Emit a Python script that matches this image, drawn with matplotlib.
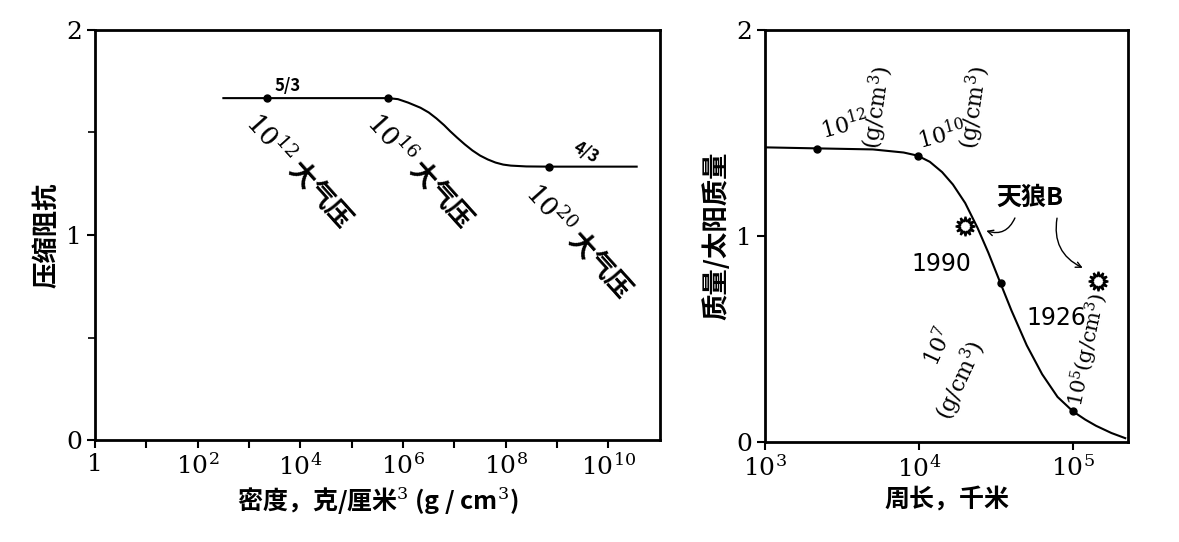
import matplotlib
matplotlib.use("Agg")
import matplotlib.pyplot as plt
import numpy as np

CJK = "Noto Sans CJK JP"
plt.rcParams["font.family"] = [CJK, "DejaVu Sans"]
plt.rcParams["mathtext.fontset"] = "dejavuserif"

# Left panel: compressibility resistance vs density
left_logrho = [2.5, 3.35, 4.5, 5.71, 5.9, 6.1, 6.34, 6.5, 6.65, 6.8, 6.92, 7.05, 7.2, 7.35, 7.5, 7.65, 7.8, 7.95, 8.1, 8.4, 8.85, 9.5, 10.55]
left_gamma = [1.667, 1.667, 1.667, 1.667, 1.662, 1.645, 1.62, 1.597, 1.568, 1.535, 1.505, 1.475, 1.442, 1.412, 1.387, 1.368, 1.353, 1.343, 1.338, 1.334, 1.333, 1.333, 1.333]
left_pts_x = [3.35, 5.71, 8.85]
left_pts_y = [1.667, 1.667, 1.333]
left_xticks = [0, 2, 4, 6, 8, 10]
left_xlabels = ["1", r"$10^2$", r"$10^4$", r"$10^6$", r"$10^8$", r"$10^{10}$"]

# Right panel: mass vs circumference
right_logc = [3.0, 3.34, 3.7, 3.9, 3.99, 4.07, 4.15, 4.22, 4.3, 4.38, 4.45, 4.53, 4.6, 4.7, 4.8, 4.9, 5.0, 5.08, 5.15, 5.25, 5.34]
right_mass = [1.43, 1.425, 1.42, 1.405, 1.39, 1.36, 1.31, 1.25, 1.16, 1.04, 0.92, 0.77, 0.64, 0.47, 0.33, 0.22, 0.15, 0.11, 0.08, 0.045, 0.02]
right_pts_x = [3.34, 3.99, 4.53, 5.0]
right_pts_y = [1.42, 1.39, 0.77, 0.15]
sirius_x = [4.30, 5.16]
sirius_y = [1.05, 0.78]
right_xticks = [3, 4, 5]
right_xlabels = [r"$10^3$", r"$10^4$", r"$10^5$"]
yticks = [0, 1, 2]

fig = plt.figure(figsize=(11.79, 5.42), dpi=100)
axL = fig.add_axes([0.0806, 0.188, 0.479, 0.757])
axR = fig.add_axes([0.649, 0.184, 0.308, 0.761])

for ax in (axL, axR):
    for s in ax.spines.values():
        s.set_linewidth(2)
    ax.tick_params(width=1.5, length=6, labelsize=18)
    ax.set_yticks(yticks)
    ax.set_yticklabels([str(v) for v in yticks], fontfamily="DejaVu Serif")
    ax.set_ylim(0, 2)

axL.plot(left_logrho, left_gamma, color="black", lw=1.5)
axL.plot(left_pts_x, left_pts_y, "o", color="black", ms=5)
axL.set_xlim(0, 11)
axL.set_xticks(range(0, 11))
axL.set_xticklabels([left_xlabels[left_xticks.index(i)] if i in left_xticks else "" for i in range(11)],
                    fontfamily="DejaVu Serif")
axL.set_yticks([0.5, 1.5], minor=True)
axL.tick_params(which="minor", length=5, width=1.2)
axL.set_ylabel("压缩阻抗", fontsize=19, fontweight="bold")
axL.set_xlabel("密度，克/厘米$^3$ (g / cm$^3$)", fontsize=18, fontweight="bold")
axL.text(3.5, 1.70, "5/3", fontsize=12, fontweight="bold")
axL.text(9.25, 1.35, "4/3", fontsize=12, fontweight="bold", rotation=-30)
for x, y, e in [(3.25, 1.62, "12"), (5.6, 1.62, "16"), (8.7, 1.28, "20")]:
    axL.text(x, y, r"$10^{%s}$ 大气压" % e, fontsize=19, fontweight="bold",
             rotation=-48, ha="left", va="top", rotation_mode="anchor")

axR.plot(right_logc, right_mass, color="black", lw=1.5)
axR.plot(right_pts_x, right_pts_y, "o", color="black", ms=5)
axR.plot(sirius_x, sirius_y, marker=(12, 1, 0), ls="none", color="black", ms=14, mfc="white", mew=1.5)
axR.set_xlim(3, 5.36)
axR.set_xticks(right_xticks)
axR.set_xticklabels(right_xlabels, fontfamily="DejaVu Serif")
axR.set_ylabel("质量/太阳质量", fontsize=19, fontweight="bold")
axR.set_xlabel("周长，千米", fontsize=18, fontweight="bold")
ser = dict(fontsize=16, fontfamily="DejaVu Serif", rotation_mode="anchor")
axR.text(3.38, 1.47, r"$10^{12}$", rotation=15, **ser)
axR.text(3.74, 1.42, r"(g/cm$^3$)", rotation=82, **ser)
axR.text(4.01, 1.42, r"$10^{10}$", rotation=15, **ser)
axR.text(4.37, 1.42, r"(g/cm$^3$)", rotation=82, **ser)
axR.text(4.12, 0.36, r"$10^{7}$", rotation=65, **ser)
axR.text(4.2, 0.1, r"(g/cm$^3$)", rotation=65, **ser)
axR.text(5.06, 0.17, r"$10^{5}$(g/cm$^3$)", rotation=78, fontsize=15, fontfamily="DejaVu Serif",
         rotation_mode="anchor")
axR.text(4.5, 1.15, "天狼B", fontsize=18, fontweight="bold")
axR.text(3.95, 0.83, "1990", fontsize=17, fontfamily="DejaVu Sans")
axR.text(4.7, 0.57, "1926", fontsize=17, fontfamily="DejaVu Sans")
axR.annotate("", xy=(4.42, 1.03), xytext=(4.63, 1.1),
             arrowprops=dict(arrowstyle="->", color="black", connectionstyle="arc3,rad=-0.5"))
axR.annotate("", xy=(5.08, 0.84), xytext=(4.9, 1.1),
             arrowprops=dict(arrowstyle="->", color="black", connectionstyle="arc3,rad=0.4"))

fig.savefig("out.png", dpi=100)
